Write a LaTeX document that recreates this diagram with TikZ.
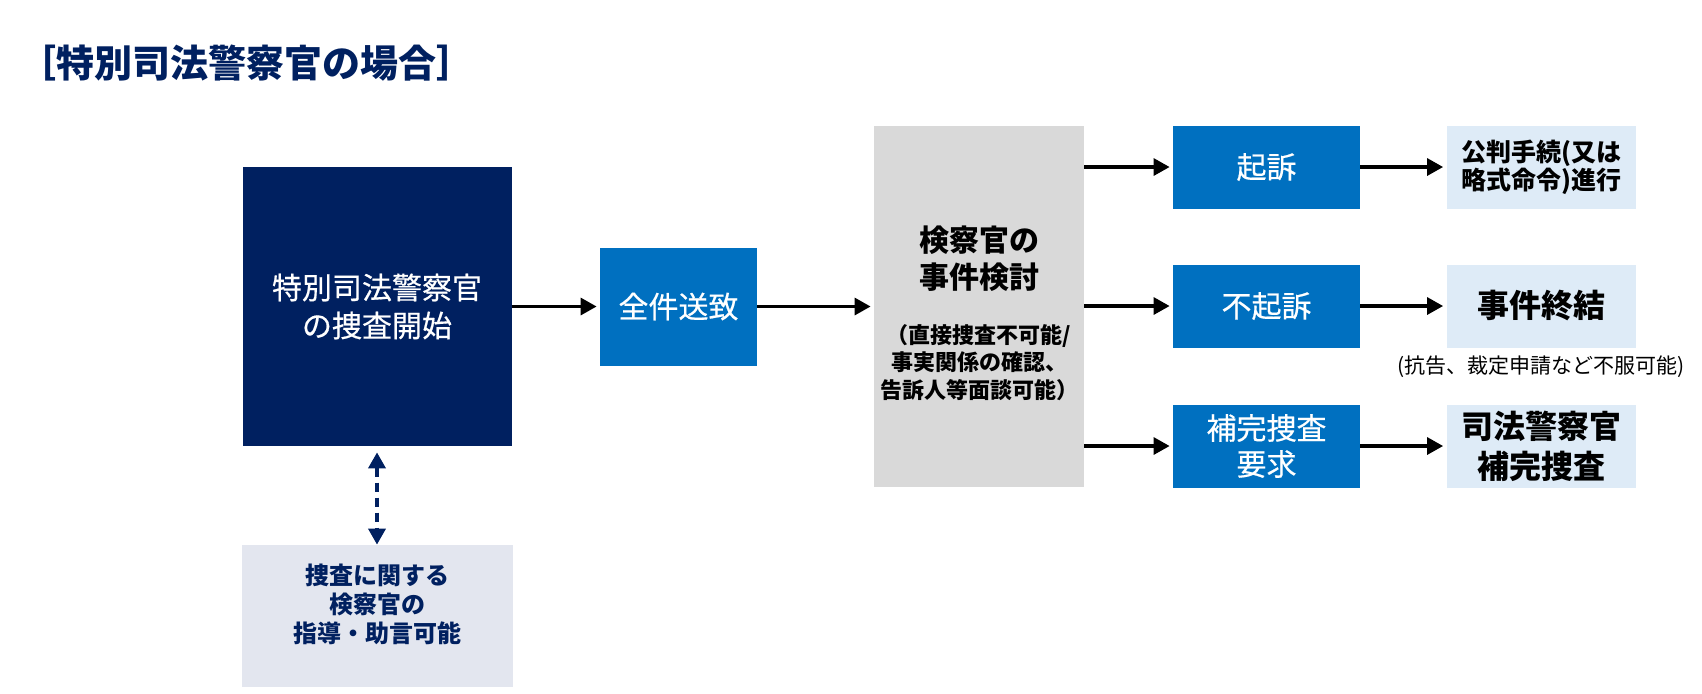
\documentclass[tikz,border=0pt]{standalone}
\usepackage{fontspec}
\setmainfont{Noto Sans CJK JP}
\newfontfamily\jpmed{Noto Sans CJK JP}[FakeBold=0.5]
\usepackage{tikz}
\usetikzlibrary{arrows.meta,positioning}

\definecolor{navy}{HTML}{002060}
\definecolor{bluebox}{HTML}{0070C0}
\definecolor{graybox}{HTML}{D9D9D9}
\definecolor{lightbox}{HTML}{DEEBF7}
\definecolor{notebox}{HTML}{E3E6EF}

\newcommand{\fsz}[2]{\fontsize{#1}{#2}\selectfont}

\begin{document}
\begin{tikzpicture}[x=0.5pt,y=-0.5pt,>={Triangle[length=8pt,width=8.5pt]},
  flow/.style={->,line width=1.6pt,shorten >=1.5pt},
  box/.style={rectangle,inner sep=0pt,align=center},
  bluestep/.style={box,fill=bluebox,text=white,minimum width=93.5pt,minimum height=41.5pt,font=\jpmed\fsz{15}{18}},
  result/.style={box,fill=lightbox,minimum width=94.5pt,minimum height=41.5pt}]

\useasboundingbox (0,0) rectangle (1702,693);

\node[anchor=west,inner sep=0pt,text=navy,font=\bfseries\fsz{19}{22}] (title) at (18,63) {［特別司法警察官の場合］};

% left part
\node[box,fill=navy,text=white,minimum width=134.5pt,minimum height=139.5pt,font=\jpmed\fsz{15}{19}] (start) at (377,306.5) {特別司法警察官\\の捜査開始};
\node[bluestep,minimum width=78.5pt,minimum height=59pt] (send) at (678.5,306.5) {全件送致};
\node[box,fill=notebox,minimum width=135.5pt,minimum height=71pt] (advice) at (377,616) {};
\node[box,text=navy,font=\bfseries\fsz{12}{14.5}] (advicetext) at (377,604) {捜査に関する\\検察官の\\指導・助言可能};

% prosecutor
\node[box,fill=graybox,minimum width=105pt,minimum height=180.5pt] (exam) at (979,306.5) {};
\node[box,font=\bfseries\fsz{15}{18.5}] (examhead) at (979,258.5) {検察官の\\事件検討};
\node[box,font=\bfseries\fsz{11}{13.75}] (examnote) at (979,362.5) {（直接捜査不可能/\\事実関係の確認、\\告訴人等面談可能）};

% decisions
\node[bluestep] (indict) at (1266.5,167) {起訴};
\node[bluestep] (noindict) at (1266.5,306) {不起訴};
\node[bluestep] (reinv) at (1266.5,446) {補完捜査\\要求};

\node[result,font=\bfseries\fsz{12.5}{14}] (trial) at (1541,167) {公判手続(又は\\略式命令)進行};
\node[result,font=\bfseries\fsz{16}{20}] (closed) at (1541,306) {事件終結};
\node[result,font=\bfseries\fsz{16}{20}] (police) at (1541,446) {司法警察官\\補完捜査};
\node[inner sep=0pt,font=\fsz{10.5}{12},below=4pt of closed] (appeal) {(抗告、裁定申請など不服可能)};

\draw[flow] (start) -- (send);
\draw[flow] (send) -- (exam);
\draw[<->,navy,line width=1.8pt,dash pattern=on 4.5pt off 3pt,shorten <=3pt] (start) -- (advice);

\draw[flow] (exam.east |- indict) -- (indict);
\draw[flow] (exam.east |- noindict) -- (noindict);
\draw[flow] (exam.east |- reinv) -- (reinv);
\draw[flow] (indict) -- (trial);
\draw[flow] (noindict) -- (closed);
\draw[flow] (reinv) -- (police);
\end{tikzpicture}
\end{document}
